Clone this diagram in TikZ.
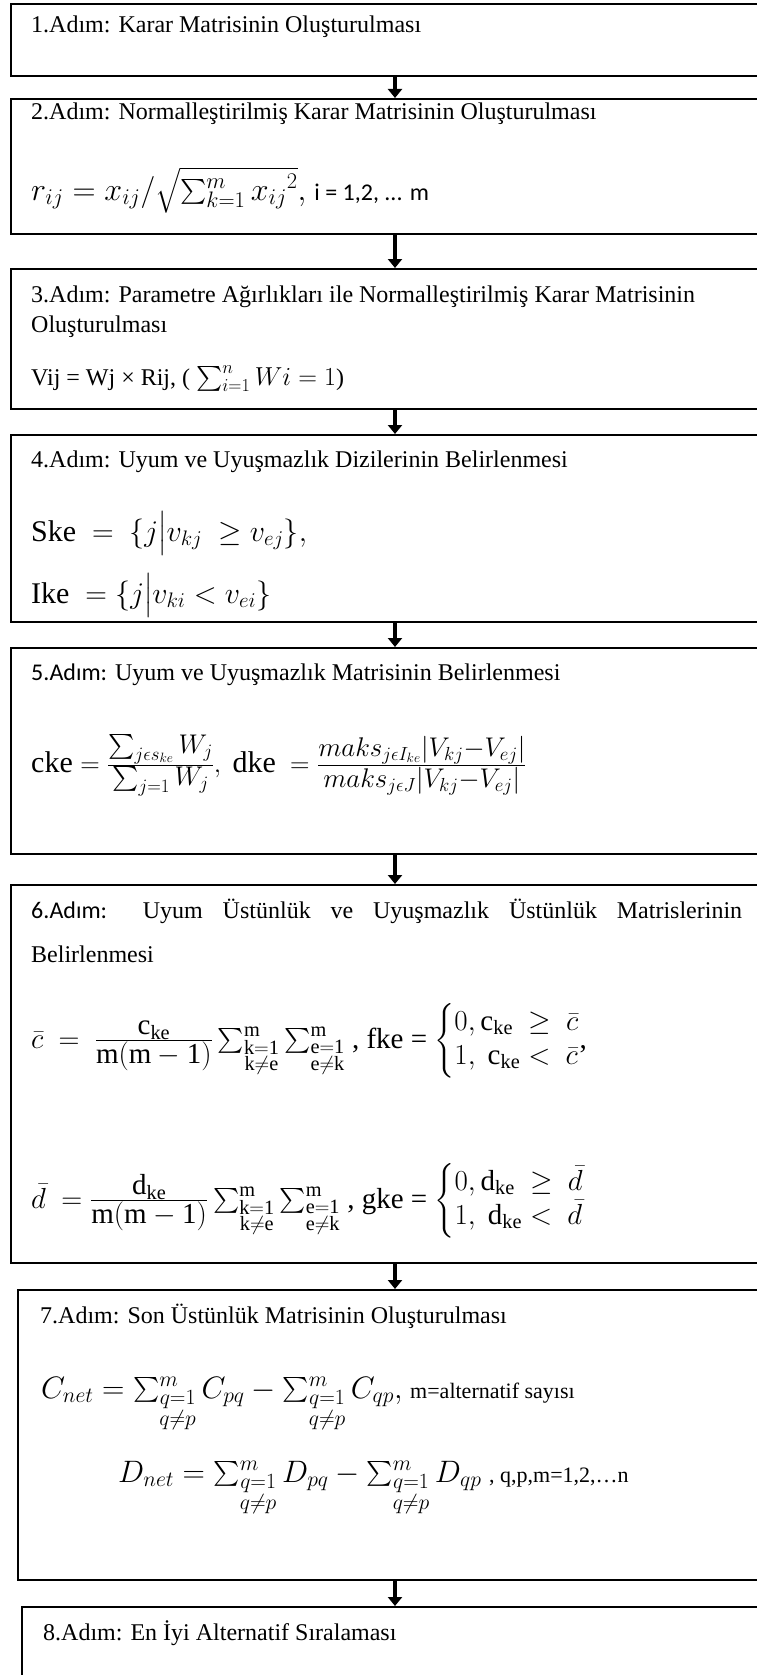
\RequirePackage{fix-cm}
\documentclass[tikz,border=0pt]{standalone}
\usepackage{amsmath}
\usepackage{fontspec}
\setmainfont{Liberation Serif}
\newfontfamily\calibri{Carlito}
\usetikzlibrary{arrows.meta}

\begin{document}
\begin{tikzpicture}[x=1pt, y=-1pt,
  stepbox/.style={draw, rectangle, line width=1.6pt, minimum width=768pt, anchor=north, inner sep=0pt},
  lbl/.style={anchor=base west, inner sep=0pt, font=\fontsize{24}{29}\selectfont},
  eq/.style={anchor=base west, inner sep=0pt, font=\fontsize{30}{36}\selectfont},
  flow/.style={line width=4.5pt, -{Triangle[width=14pt,length=9pt]}}
]
\useasboundingbox (0,0) rectangle (756,1675);
\node[stepbox, minimum height=72pt] (s1) at (395,3) {};
\node[stepbox, minimum height=135pt] (s2) at (395,98) {};
\node[stepbox, minimum height=140pt] (s3) at (395,268) {};
\node[stepbox, minimum height=187pt] (s4) at (395,434) {};
\node[stepbox, minimum height=206pt] (s5) at (395,647) {};
\node[stepbox, minimum height=378pt] (s6) at (395,884) {};
\node[stepbox, minimum height=290pt, minimum width=754pt] (s7) at (395,1289) {};
\node[stepbox, minimum height=120pt, minimum width=746pt] (s8) at (395,1606) {};
\draw[flow] (s1.south) -- (s2.north);
\draw[flow] (s2.south) -- (s3.north);
\draw[flow] (s3.south) -- (s4.north);
\draw[flow] (s4.south) -- (s5.north);
\draw[flow] (s5.south) -- (s6.north);
\draw[flow] (s6.south) -- (s7.north);
\draw[flow] (s7.south) -- (s8.north);
% step texts
\node[lbl] (t1) at (31,33) {1.Adım: Karar Matrisinin Oluşturulması};
\node[lbl] (t2) at (31,120) {2.Adım: Normalleştirilmiş Karar Matrisinin Oluşturulması};
\node[eq, font=\fontsize{32}{38}\selectfont] (f2) at (31,200) {$r_{ij} = x_{ij}/\sqrt{\textstyle\sum_{k=1}^{m} {x_{ij}}^{2}},$ {\calibri\fontsize{24}{28}\selectfont i = 1,2, ... m}};
\node[lbl] (t3) at (31,302) {3.Adım: Parametre Ağırlıkları ile Normalleştirilmiş Karar Matrisinin};
\node[lbl] (t3b) at (31,332) {Oluşturulması};
\node[lbl] (f3) at (31,385) {Vij = Wj × Rij, ( {\fontsize{26}{30}\selectfont$\sum_{i=1}^{n} Wi = 1$})};
\node[lbl] (t4) at (31,467) {4.Adım: Uyum ve Uyuşmazlık Dizilerinin Belirlenmesi};
\node[eq] (f4a) at (31,541) {$\mathrm{Ske}\ =\ \{j\big|v_{kj}\ \geq v_{ej}\},$};
\node[eq] (f4b) at (31,603) {$\mathrm{Ike}\ = \{j\big|v_{ki} < v_{ei}\}$};
\node[lbl] (t5) at (31,680) {{\calibri 5.Adım:} Uyum ve Uyuşmazlık Matrisinin Belirlenmesi};
\node[eq, font=\fontsize{27}{32}\selectfont] (f5) at (31,772) {$\text{\fontsize{30}{36}\selectfont cke} = \frac{\textstyle\sum_{j\epsilon s_{ke}} W_j}{\textstyle\sum_{j=1} W_j},\ \text{\fontsize{30}{36}\selectfont dke}\ = \frac{\textstyle maks_{j\epsilon I_{ke}}|V_{kj}{-}V_{ej}|}{\textstyle maks_{j\epsilon J}|V_{kj}{-}V_{ej}|}$};
\node[lbl] (t6) at (31,918) {\makebox[711pt][s]{{\calibri 6.Adım:} Uyum Üstünlük ve Uyuşmazlık Üstünlük Matrislerinin}};
\node[lbl] (t6b) at (31,962) {Belirlenmesi};
\node[eq, font=\fontsize{29}{34}\selectfont] (f6a) at (31,1048) {$\bar{c}\ =\ \frac{\textstyle\mathrm{c_{ke}}}{\textstyle\mathrm{m(m-1)}}\sum\nolimits^{\mathrm{m}}_{\substack{\mathrm{k=1}\\ \mathrm{k\neq e}}}\sum\nolimits^{\mathrm{m}}_{\substack{\mathrm{e=1}\\ \mathrm{e\neq k}}}$ , fke = $\left\{\begin{array}{@{}l@{}}0,\mathrm{c_{ke}}\ \geq\ \bar{c}\\ 1,\ \mathrm{c_{ke}} <\ \bar{c}\end{array}\right.$,};
\node[eq, font=\fontsize{29}{34}\selectfont] (f6b) at (31,1208) {$\bar{d}\ = \frac{\textstyle\mathrm{d_{ke}}}{\textstyle\mathrm{m(m-1)}}\sum\nolimits^{\mathrm{m}}_{\substack{\mathrm{k=1}\\ \mathrm{k\neq e}}}\sum\nolimits^{\mathrm{m}}_{\substack{\mathrm{e=1}\\ \mathrm{e\neq k}}}$ , gke = $\left\{\begin{array}{@{}l@{}}0,\mathrm{d_{ke}}\ \geq\ \bar{d}\\ 1,\ \mathrm{d_{ke}} <\ \bar{d}\end{array}\right.$};
\node[lbl] (t7) at (40,1323) {7.Adım: Son Üstünlük Matrisinin Oluşturulması};
\node[eq, font=\fontsize{31}{36}\selectfont] (f7a) at (41,1398) {$C_{net} = \sum\nolimits^{m}_{\substack{q=1\\ q\neq p}} C_{pq} - \sum\nolimits^{m}_{\substack{q=1\\ q\neq p}} C_{qp},$ {\fontsize{22}{26}\selectfont m=alternatif sayısı}};
\node[eq, font=\fontsize{31}{36}\selectfont] (f7b) at (118,1482) {$D_{net} = \sum\nolimits^{m}_{\substack{q=1\\ q\neq p}} D_{pq} - \sum\nolimits^{m}_{\substack{q=1\\ q\neq p}} D_{qp}$ {\fontsize{22}{26}\selectfont , q,p,m=1,2,…n}};
\node[lbl] (t8) at (43,1640) {8.Adım: En İyi Alternatif Sıralaması};
\end{tikzpicture}
\end{document}
